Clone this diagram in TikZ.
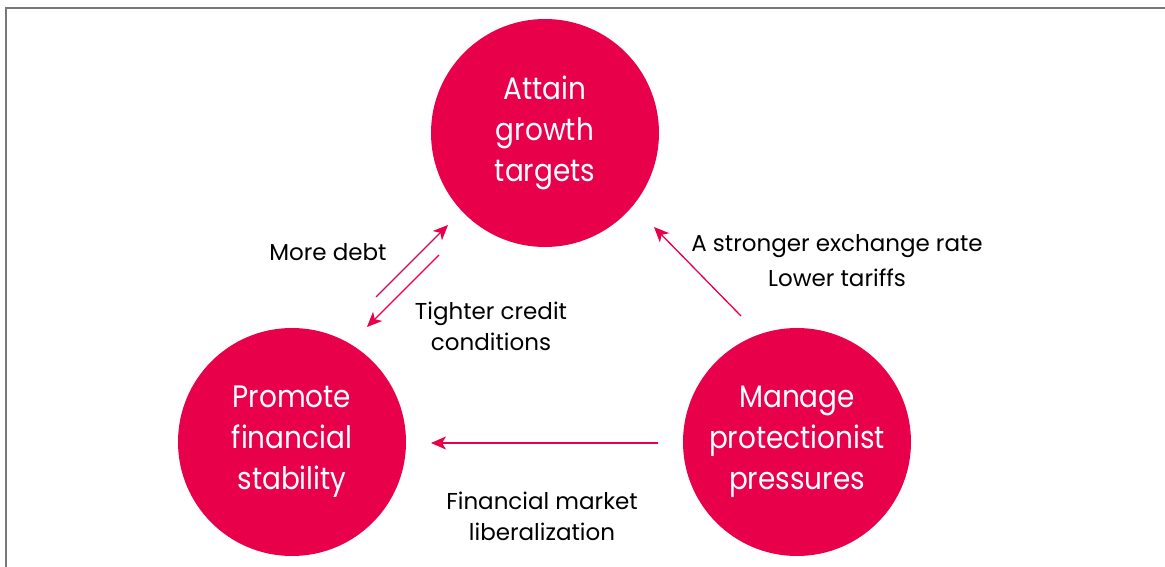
\documentclass[tikz,border=0pt]{standalone}
\usepackage{fontspec}
\setmainfont{Poppins}
\newfontfamily\goalfont{Poppins}[FakeStretch=0.9]
\usetikzlibrary{arrows.meta}
\definecolor{goalred}{RGB}{232,0,75}
\definecolor{framegray}{RGB}{120,120,120}
\tikzset{>={Stealth[length=15pt,width=13pt,inset=4pt]}}

\begin{document}
\begin{tikzpicture}[x=1pt,y=-1pt,
    goal/.style={circle,fill=goalred,text=white,minimum size=228pt,inner sep=0pt,
      align=center,font=\goalfont\fontsize{31}{41}\selectfont},
    channel/.style={align=center,font=\fontsize{23}{31}\selectfont},
    link/.style={->,draw=goalred,fill=goalred,line width=1.3pt}]
    \useasboundingbox (0,0) rectangle (1165,567);
    % frame
    \draw[framegray,line width=2pt] (6,567) -- (6,8) -- (1165,8);
    % goals
    \node[goal] (growth) at (545,133) {Attain\\growth\\targets};
    \node[goal] (stability) at (292,442) {Promote\\financial\\stability};
    \node[goal] (protect) at (797,442) {Manage\\protectionist\\pressures};
    % arrow ends
    \coordinate (debtS) at (376,297);
    \coordinate (debtE) at (448,225);
    \coordinate (creditS) at (439,255);
    \coordinate (creditE) at (367,327);
    \coordinate (rateS) at (741,316);
    \coordinate (rateE) at (654,227);
    \coordinate (liberS) at (658,443);
    \coordinate (liberE) at (431,443);
    \draw[link] (debtS) -- (debtE);
    \draw[link] (creditS) -- (creditE);
    \draw[link] (rateS) -- (rateE);
    \draw[link] (liberS) -- (liberE);
    % channels
    \node[channel] (debt) at (328,252) {More debt};
    \node[channel] (credit) at (491,326) {Tighter credit\\conditions};
    \node[channel,font=\fontsize{23}{35}\selectfont] (rate) at (837,261) {A stronger exchange rate\\Lower tariffs};
    \node[channel] (liber) at (542,516) {Financial market\\liberalization};
\end{tikzpicture}
\end{document}
